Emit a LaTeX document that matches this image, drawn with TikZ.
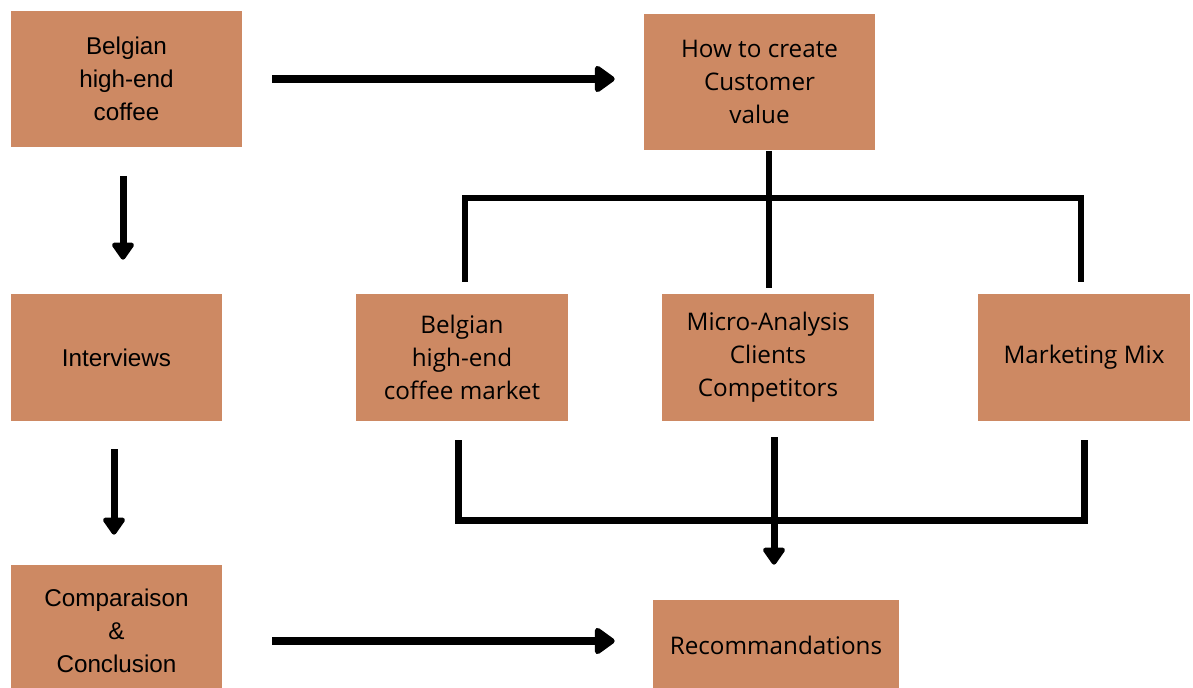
\documentclass[tikz,border=0pt]{standalone}
\usepackage{fontspec}
\setmainfont{Liberation Sans}
\newfontfamily\opensans{Open Sans}
\usetikzlibrary{arrows.meta}
\definecolor{coffee}{RGB}{205,137,99}

\begin{document}
\begin{tikzpicture}[x=0.02cm, y=-0.02cm,
		box/.style={fill=coffee, inner sep=0pt, align=center, font=\fontsize{13.8}{18.8}\selectfont},
		obox/.style={box, font=\opensans\fontsize{13.8}{18.8}\selectfont},
		flow/.style={line width=0.14cm, -{Triangle[width=0.5cm, length=0.38cm, round]}},
		wideflow/.style={line width=0.16cm, -{Triangle[width=0.6cm, length=0.44cm, round]}},
		link/.style={line width=0.13cm}]
			\useasboundingbox (0,0) rectangle (1193,688);
			% boxes
			\node[box, minimum width=4.62cm, minimum height=2.74cm] (coffee) at (126.5,79) {Belgian\\high-end\\coffee};
			\node[obox, minimum width=4.62cm, minimum height=2.74cm] (value) at (759.5,82) {How to create\\Customer\\value};
			\node[box, minimum width=4.22cm, minimum height=2.54cm] (interviews) at (116.5,357.5) {Interviews};
			\node[obox, minimum width=4.24cm, minimum height=2.54cm] (market) at (462,357.5) {Belgian\\high-end\\coffee market};
			\node[obox, minimum width=4.24cm, minimum height=2.54cm] (analysis) at (768,357.5) {Micro-Analysis\\Clients\\Competitors};
			\node[obox, minimum width=4.24cm, minimum height=2.54cm] (mix) at (1084,357.5) {Marketing Mix};
			\node[box, minimum width=4.22cm, minimum height=2.64cm] (conclusion) at (116.5,631) {Comparaison\\\&\\Conclusion};
			\node[obox, minimum width=4.92cm, minimum height=1.8cm] (advice) at (776,645) {Recommandations};
			% arrows
			\draw[wideflow, shorten <=0.6cm, shorten >=0.58cm] (coffee.east) -- (coffee.east -| value.west);
			\draw[flow, shorten <=0.56cm, shorten >=0.68cm] ([xshift=-0.07cm]coffee.south) -- ([xshift=-0.07cm]coffee.south |- interviews.north);
			\draw[flow, shorten <=0.56cm, shorten >=0.6cm] ([xshift=-0.05cm]interviews.south) -- ([xshift=-0.05cm]interviews.south |- conclusion.north);
			\draw[wideflow, shorten <=1cm, shorten >=0.76cm] ([yshift=-0.2cm]conclusion.east) -- ([yshift=-0.2cm]conclusion.east -| advice.west);
			% tree
			\coordinate (split) at (769,198);
			\coordinate (merge) at (774,521);
			\draw[link, shorten >=0.12cm] (value.south -| split) -- (split |- analysis.north);
			\draw[link, shorten <=0.24cm, shorten >=0.24cm] ([xshift=0.06cm]market.north) -- ([xshift=0.06cm]market.north |- split) -- ([xshift=-0.06cm]mix.north |- split) -- ([xshift=-0.06cm]mix.north);
			\draw[link, line width=0.14cm, shorten <=0.38cm, shorten >=0.38cm] ([xshift=-0.08cm]market.south) -- ([xshift=-0.08cm]market.south |- merge) -- (mix.south |- merge) -- (mix.south);
			\draw[flow, shorten <=0.32cm, shorten >=0.7cm] (analysis.south -| merge) -- (merge |- advice.north);
		\end{tikzpicture}
\end{document}
